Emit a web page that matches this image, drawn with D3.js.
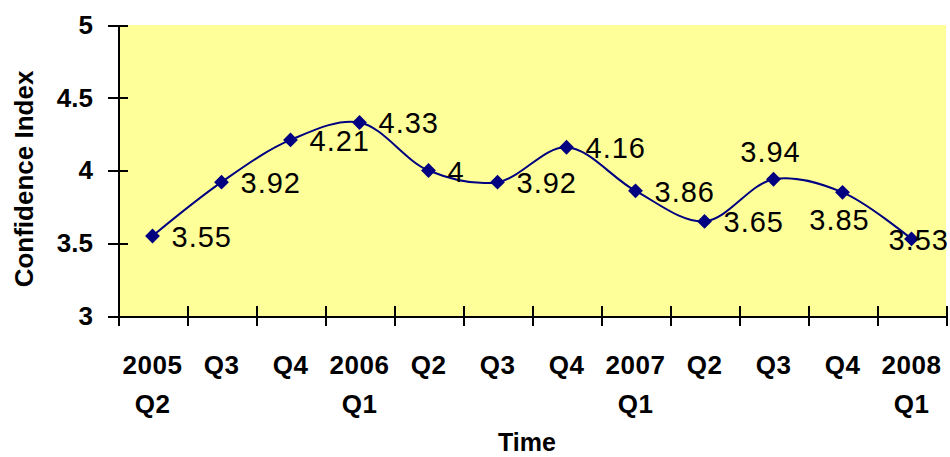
<!DOCTYPE html>
<html>
  <head>
    <title>Confidence Index</title>
    <script src="https://d3js.org/d3.v7.min.js"></script>
    <style>
      body { margin: 0; background: #fff; }
      svg text { font-family: "Liberation Sans", Arial, sans-serif; fill: #000; }
      .axis path, .axis line { stroke: #000; stroke-width: 2; shape-rendering: crispEdges; }
      .axis text { font-size: 26px; font-weight: bold; }
    </style>
  </head>
  <body>
    <script>
      // quarters from 2005 Q2 to 2008 Q1
      var quarterTop = ["2005", "Q3", "Q4", "2006", "Q2", "Q3", "Q4", "2007", "Q2", "Q3", "Q4", "2008"];
      var quarterBottom = ["Q2", "", "", "Q1", "", "", "", "Q1", "", "", "", "Q1"];
      var confidence = [3.55, 3.92, 4.21, 4.33, 4, 3.92, 4.16, 3.86, 3.65, 3.94, 3.85, 3.53];
      // where excel put each data label
      var labelSide = ["right", "right", "right", "right", "right", "right", "right", "right", "right", "above", "below", "fit"];
      var yTicks = [3, 3.5, 4, 4.5, 5];

      var W = 950, H = 457;
      var margin = {top: 25, right: 4, bottom: 141, left: 118};
      var width = W - margin.left - margin.right,
          height = H - margin.top - margin.bottom;

      var svg = d3.select("body").append("svg")
          .attr("width", W)
          .attr("height", H);

      var g = svg.append("g")
          .attr("transform", "translate(" + margin.left + "," + margin.top + ")");

      var x = d3.scaleBand().domain(d3.range(confidence.length)).range([0, width]);
      var xEdge = d3.scaleLinear().domain([0, confidence.length]).range([0, width]);
      var y = d3.scaleLinear().domain([3, 5]).range([height, 0]);

      // plot area
      g.append("rect")
          .attr("width", width)
          .attr("height", height)
          .attr("fill", "#FFFF99");

      // y axis, ticks cross the line
      var yAxis = g.append("g")
          .attr("class", "axis")
          .call(d3.axisLeft(y).tickValues(yTicks).tickSize(10).tickSizeOuter(0)
            .tickPadding(15).tickFormat(function(d) { return String(d); }));
      yAxis.selectAll(".tick line").attr("x1", 10).attr("x2", -10);

      // x axis, ticks between categories
      var xAxis = g.append("g")
          .attr("class", "axis")
          .attr("transform", "translate(0," + height + ")")
          .call(d3.axisBottom(xEdge).tickValues(d3.range(confidence.length + 1))
            .tickSize(10).tickSizeOuter(0).tickFormat(""));
      xAxis.selectAll(".tick line").attr("y1", -10).attr("y2", 10);

      var cx = function(i) { return x(i) + x.bandwidth() / 2; };

      g.selectAll(".qtop")
          .data(quarterTop)
        .enter().append("text")
          .attr("class", "qtop")
          .attr("x", function(d, i) { return cx(i); })
          .attr("y", height + 58)
          .attr("text-anchor", "middle")
          .style("font-size", "26px")
          .style("font-weight", "bold")
          .style("letter-spacing", "0.5px")
          .text(function(d) { return d; });

      g.selectAll(".qbot")
          .data(quarterBottom)
        .enter().append("text")
          .attr("class", "qbot")
          .attr("x", function(d, i) { return cx(i); })
          .attr("y", height + 97)
          .attr("text-anchor", "middle")
          .style("font-size", "26px")
          .style("font-weight", "bold")
          .style("letter-spacing", "0.5px")
          .text(function(d) { return d; });

      // smoothed line
      var line = d3.line()
          .x(function(d, i) { return cx(i); })
          .y(function(d) { return y(d); })
          .curve(d3.curveCatmullRom);

      g.append("path")
          .datum(confidence)
          .attr("fill", "none")
          .attr("stroke", "#000080")
          .attr("stroke-width", 2)
          .attr("d", line);

      // diamond markers
      g.selectAll(".marker")
          .data(confidence)
        .enter().append("path")
          .attr("class", "marker")
          .attr("d", d3.symbol().type(d3.symbolSquare).size(110))
          .attr("fill", "#000080")
          .attr("transform", function(d, i) {
            return "translate(" + cx(i) + "," + y(d) + ") rotate(45)";
          });

      // data labels
      g.selectAll(".lbl")
          .data(confidence)
        .enter().append("text")
          .attr("class", "lbl")
          .style("font-size", "29px")
          .style("letter-spacing", "1px")
          .attr("x", function(d, i) {
            var s = labelSide[i];
            if (s == "right") return cx(i) + 19;
            if (s == "fit") return width + 3;
            return cx(i) - 3;
          })
          .attr("y", function(d, i) {
            var s = labelSide[i];
            if (s == "above") return y(d) - 17;
            if (s == "below") return y(d) + 38;
            return y(d) + 11;
          })
          .attr("text-anchor", function(d, i) {
            var s = labelSide[i];
            if (s == "right") return "start";
            if (s == "fit") return "end";
            return "middle";
          })
          .text(function(d) { return d; });

      // axis titles
      svg.append("text")
          .attr("x", 527)
          .attr("y", 451)
          .attr("text-anchor", "middle")
          .style("font-size", "25px")
          .style("font-weight", "bold")
          .text("Time");

      svg.append("text")
          .attr("transform", "translate(33,179) rotate(-90)")
          .attr("text-anchor", "middle")
          .style("font-size", "26px")
          .style("font-weight", "bold")
          .text("Confidence Index");
    </script>
  </body>
</html>
